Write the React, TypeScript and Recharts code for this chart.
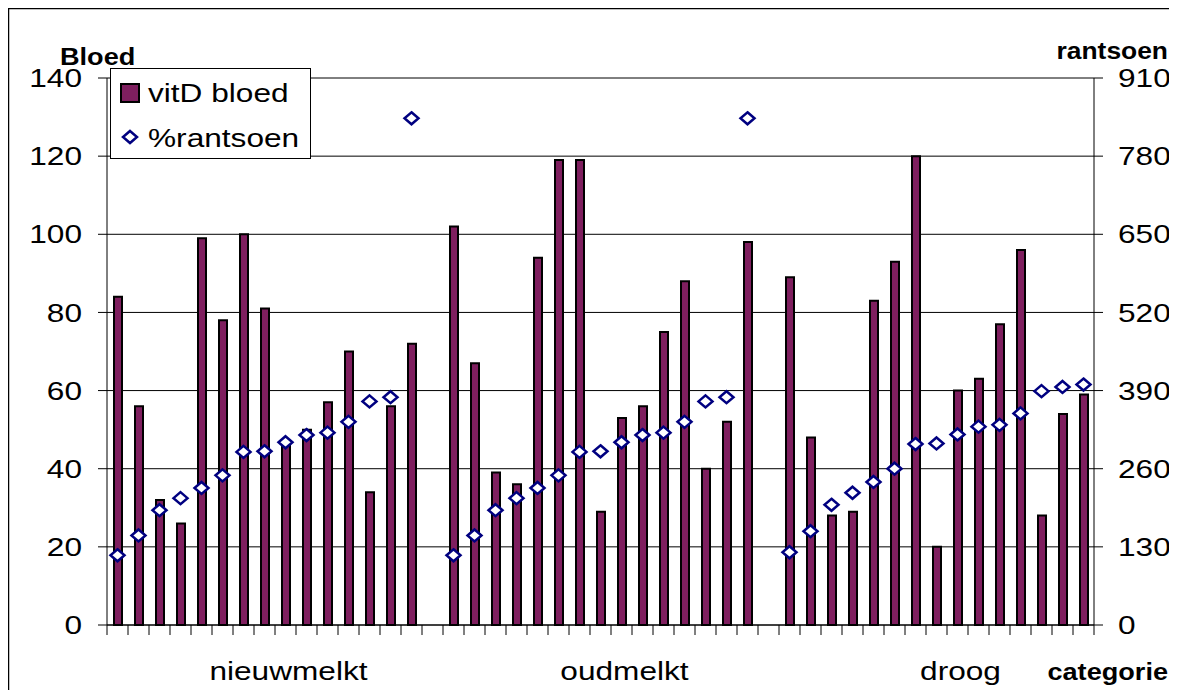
import React from 'react';
import {
  Bar,
  CartesianGrid,
  ComposedChart,
  Line,
  XAxis,
  YAxis,
} from 'recharts';

// categorie groups, each has 15 cows, with an empty slot between groups
const groups = ['nieuwmelkt', 'oudmelkt', 'droog'];

// vitD bloed (left axis)
const nieuwmelktBloed = [84, 56, 32, 26, 99, 78, 100, 81, 46, 50, 57, 70, 34, 56, 72];
const oudmelktBloed = [102, 67, 39, 36, 94, 119, 119, 29, 53, 56, 75, 88, 40, 52, 98];
const droogBloed = [89, 48, 28, 29, 83, 93, 120, 20, 60, 63, 77, 96, 28, 54, 59];

// %rantsoen (right axis)
const nieuwmelktRantsoen = [116, 149, 191, 211, 228, 249, 288, 289, 304, 316, 320, 338, 372, 379, 843];
const oudmelktRantsoen = [116, 149, 191, 211, 228, 249, 288, 289, 304, 316, 320, 338, 372, 379, 843];
const droogRantsoen = [121, 156, 200, 220, 238, 260, 301, 302, 317, 330, 333, 352, 389, 396, 400];

const bloedTicks = [0, 20, 40, 60, 80, 100, 120, 140];
const rantsoenTicks = [0, 130, 260, 390, 520, 650, 780, 910];

// the group name is printed under the 9th slot of each block
const labelSlot = 8;

const bloedByGroup = [nieuwmelktBloed, oudmelktBloed, droogBloed];
const rantsoenByGroup = [nieuwmelktRantsoen, oudmelktRantsoen, droogRantsoen];

type Row = { slot: string; label: string; bloed: number | null; rantsoen: number | null };

const data: Row[] = [];
groups.forEach((name, g) => {
  bloedByGroup[g].forEach((v, i) => {
    data.push({
      slot: `${name}-${i}`,
      label: i === labelSlot ? name : '',
      bloed: v,
      rantsoen: rantsoenByGroup[g][i],
    });
  });
  if (g < groups.length - 1) {
    data.push({ slot: `${name}-gap`, label: '', bloed: null, rantsoen: null });
  }
});

const FONT = '"Liberation Sans", Arial, sans-serif';
const BAR_FILL = '#7f1f5f';
const NAVY = '#000080';
const STRETCH = 1.24;
const FS = 25.5;

const LeftTick = (props: any) => {
  const { x, y, payload } = props;
  return (
    <g transform={`translate(${x},${y})`}>
      <text transform={`scale(${STRETCH},1)`} textAnchor="end" dy="0.36em" fontSize={FS} fontFamily={FONT} fill="#000">
        {payload.value}
      </text>
    </g>
  );
};

const RightTick = (props: any) => {
  const { x, y, payload } = props;
  return (
    <g transform={`translate(${x},${y})`}>
      <text transform={`scale(${STRETCH},1)`} textAnchor="start" dy="0.36em" fontSize={FS} fontFamily={FONT} fill="#000">
        {payload.value}
      </text>
    </g>
  );
};

const CategoryTick = (props: any) => {
  const { x, y, payload, index } = props;
  const half = payload.offset || 10.5;
  const label = data[index] ? data[index].label : '';
  const last = index === data.length - 1;
  return (
    <g>
      <line x1={x - half} x2={x - half} y1={y - 10} y2={y} stroke="#000" strokeWidth={1} />
      {last && <line x1={x + half} x2={x + half} y1={y - 10} y2={y} stroke="#000" strokeWidth={1} />}
      {label && (
        <g transform={`translate(${x + 3},${y + 45})`}>
          <text transform={`scale(${STRETCH},1)`} textAnchor="middle" fontSize={FS} fontFamily={FONT} fill="#000">
            {label}
          </text>
        </g>
      )}
    </g>
  );
};

const Diamond = (props: any) => {
  const { cx, cy, value } = props;
  if (value == null || cx == null || cy == null) return <g key={props.key} />;
  return (
    <path
      key={props.key}
      d={`M${cx},${cy - 6} L${cx + 7},${cy} L${cx},${cy + 6} L${cx - 7},${cy} Z`}
      fill="#fff"
      stroke={NAVY}
      strokeWidth={2.5}
    />
  );
};

const LegendBox = () => (
  <div
    style={{
      position: 'absolute',
      left: 102,
      top: 60,
      width: 199,
      height: 89,
      border: '1px solid #000',
      background: '#fff',
    }}
  >
    <svg width={199} height={89} style={{ display: 'block' }}>
      <rect x={10} y={15} width={18} height={18} fill={BAR_FILL} stroke="#000" strokeWidth={2} />
      <g transform="translate(37,33)">
        <text transform={`scale(${STRETCH},1)`} fontSize={FS} fontFamily={FONT} fill="#000">vitD bloed</text>
      </g>
      <path d="M19,62 L26,68 L19,74 L12,68 Z" fill="#fff" stroke={NAVY} strokeWidth={2.5} />
      <g transform="translate(37,78)">
        <text transform={`scale(${STRETCH},1)`} fontSize={FS} fontFamily={FONT} fill="#000">%rantsoen</text>
      </g>
    </svg>
  </div>
);

export default function App() {
  return (
    <div
      style={{
        position: 'relative',
        width: 1164,
        height: 700,
        background: '#fff',
        fontFamily: FONT,
      }}
    >
      <ComposedChart
        width={1164}
        height={700}
        data={data}
        margin={{ top: 70, right: 0, bottom: 23, left: 0 }}
        barCategoryGap={0}
      >
        <CartesianGrid vertical={false} stroke="#000" strokeWidth={1} yAxisId="left" />
        <XAxis
          dataKey="slot"
          interval={0}
          height={60}
          tickLine={false}
          tickSize={10}
          tickMargin={0}
          axisLine={{ stroke: '#000' }}
          tick={<CategoryTick />}
        />
        <YAxis
          yAxisId="left"
          domain={[0, 140]}
          ticks={bloedTicks}
          width={99}
          tickSize={9}
          tickMargin={16}
          axisLine={{ stroke: '#000' }}
          tickLine={{ stroke: '#000' }}
          tick={<LeftTick />}
        />
        <YAxis
          yAxisId="right"
          orientation="right"
          domain={[0, 910]}
          ticks={rantsoenTicks}
          width={78}
          tickSize={9}
          tickMargin={15}
          axisLine={{ stroke: '#000' }}
          tickLine={{ stroke: '#000' }}
          tick={<RightTick />}
        />
        <Bar
          yAxisId="left"
          dataKey="bloed"
          name="vitD bloed"
          barSize={8}
          fill={BAR_FILL}
          stroke="#000"
          strokeWidth={2}
          isAnimationActive={false}
        />
        <Line
          yAxisId="right"
          dataKey="rantsoen"
          name="%rantsoen"
          stroke="none"
          dot={Diamond}
          activeDot={false}
          connectNulls={false}
          isAnimationActive={false}
        />
      </ComposedChart>
      <LegendBox />
      <svg
        width={1164}
        height={700}
        style={{ position: 'absolute', left: 0, top: 0, pointerEvents: 'none' }}
      >
        <path d="M0.5,700 L0.5,0.5 L1163.5,0.5 L1163.5,700" fill="none" stroke="#000" strokeWidth={1.5} />
        <g transform="translate(52,57)">
          <text transform="scale(1.13,1)" fontSize={24} fontWeight="bold" fontFamily={FONT} fill="#000">Bloed</text>
        </g>
        <g transform="translate(1160,51)">
          <text transform="scale(1.1,1)" textAnchor="end" fontSize={24} fontWeight="bold" fontFamily={FONT} fill="#000">rantsoen</text>
        </g>
        <g transform="translate(1160,672)">
          <text transform="scale(1.13,1)" textAnchor="end" fontSize={24} fontWeight="bold" fontFamily={FONT} fill="#000">categorie</text>
        </g>
      </svg>
    </div>
  );
}
